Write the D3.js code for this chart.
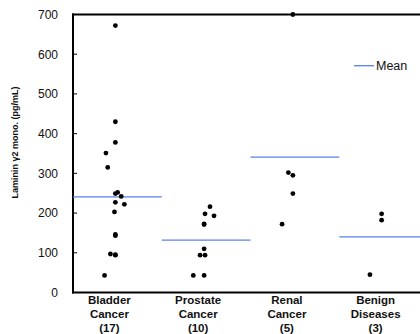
<!DOCTYPE html>
<html>
<head>
<meta charset="utf-8">
<script src="https://cdn.jsdelivr.net/npm/d3@7"></script>
<style>
  html, body { margin: 0; padding: 0; background: #fff; }
  svg { display: block; }
  text { font-family: "Liberation Sans", Arial, Helvetica, sans-serif; }
</style>
</head>
<body>
<script>
// ---- data ----
const categories = ["Bladder Cancer", "Prostate Cancer", "Renal Cancer", "Benign Diseases"];
const categoryLines = [["Bladder", "Cancer", "(17)"], ["Prostate", "Cancer", "(10)"], ["Renal", "Cancer", "(5)"], ["Benign", "Diseases", "(3)"]];
const bladderValues = [672, 430, 378, 351, 315, 252, 249, 242, 227, 222, 203, 146, 143, 97, 95, 94, 43];
const bladderJitter = [0, 0, 0, -2.1, -1.7, 0.5, 0, 1.3, 0, 2.0, -0.2, 0, 0, -1.1, 0, 0, -2.4];
const prostateValues = [216, 198, 193, 173, 171, 110, 94, 94, 43, 43];
const prostateJitter = [1.3, 0.2, 2.2, 0, 0, 0, -0.9, 0.2, -2.4, 0];
const renalValues = [700, 302, 295, 249, 172];
const renalJitter = [0, -1.0, 0, 0, -2.4];
const benignValues = [198, 182, 45];
const benignJitter = [0, 0, -2.6];
const meanValues = [241, 132, 341, 140];
const yTicks = [0, 100, 200, 300, 400, 500, 600, 700];
const yTitle = "Laminin \u03b32 mono. (pg/mL)";
const legendLabel = "Mean";

const seriesValues = [bladderValues, prostateValues, renalValues, benignValues];
const seriesJitter = [bladderJitter, prostateJitter, renalJitter, benignJitter];

// ---- layout ----
const W = 420, H = 334;
const mLeft = 73, mTop = 14.5, mBottom = 292.5, mRight = 428;

const svg = d3.select("body").append("svg").attr("width", W).attr("height", H);

const x = d3.scaleBand().domain(categories).range([mLeft, mRight]).padding(0);
const y = d3.scaleLinear().domain([0, 700]).range([mBottom, mTop]);
const jit = d3.scaleLinear().domain([0, 1]).range([0, 4.5]);

// y axis (inner ticks)
const yAxis = d3.axisLeft(y).tickValues(yTicks).tickSize(0).tickPadding(15);
const gy = svg.append("g").attr("transform", `translate(${mLeft},0)`).call(yAxis);
gy.select(".domain").remove();
gy.selectAll("text").attr("font-size", 12).attr("fill", "#111").attr("font-family", "Liberation Sans, Arial, sans-serif");
svg.append("g").selectAll("line").data(yTicks.filter(d => d > 0 && d < 700)).join("line")
  .attr("x1", mLeft).attr("x2", mLeft + 4)
  .attr("y1", d => y(d)).attr("y2", d => y(d))
  .attr("stroke", "#000").attr("stroke-width", 1);

// frame: left, bottom, top
svg.append("line").attr("x1", mLeft).attr("x2", mLeft).attr("y1", mTop - 1).attr("y2", mBottom + 1)
  .attr("stroke", "#000").attr("stroke-width", 2);
svg.append("line").attr("x1", mLeft - 1).attr("x2", W).attr("y1", mBottom).attr("y2", mBottom)
  .attr("stroke", "#000").attr("stroke-width", 2);
svg.append("line").attr("x1", mLeft - 1).attr("x2", W).attr("y1", mTop).attr("y2", mTop)
  .attr("stroke", "#000").attr("stroke-width", 2);

// mean lines
svg.append("g").selectAll("line").data(categories).join("line")
  .attr("x1", d => x(d)).attr("x2", d => x(d) + x.bandwidth())
  .attr("y1", (d, i) => y(meanValues[i])).attr("y2", (d, i) => y(meanValues[i]))
  .attr("stroke", "#5b80ec").attr("stroke-width", 1.3);

// points
const pts = [];
categories.forEach((c, i) => {
  seriesValues[i].forEach((v, j) => pts.push({ c, v, j: seriesJitter[i][j] }));
});
svg.append("g").selectAll("circle").data(pts).join("circle")
  .attr("cx", d => x(d.c) + x.bandwidth() / 2 - 2 + jit(d.j))
  .attr("cy", d => y(d.v))
  .attr("r", 2.4)
  .attr("fill", "#000");

// category labels
const lab = svg.append("g").selectAll("text").data(categories).join("text")
  .attr("text-anchor", "middle")
  .attr("font-size", 11.5).attr("font-weight", "bold").attr("fill", "#111");
lab.each(function (d, i) {
  const cx = x(d) + x.bandwidth() / 2 - 8;
  d3.select(this).selectAll("tspan").data(categoryLines[i]).join("tspan")
    .attr("x", cx).attr("y", (t, k) => 304 + k * 14).text(t => t);
});

// y title
svg.append("text")
  .attr("transform", `translate(18,142.5) rotate(-90)`)
  .attr("text-anchor", "middle")
  .attr("font-size", 9).attr("font-weight", "bold").attr("fill", "#111")
  .text(yTitle);

// legend
svg.append("line").attr("x1", 354).attr("x2", 374).attr("y1", 65.7).attr("y2", 65.7)
  .attr("stroke", "#5b80ec").attr("stroke-width", 1.3);
svg.append("text").attr("x", 376).attr("y", 65.7).attr("dy", "0.36em")
  .attr("font-size", 12.5).attr("fill", "#111").text(legendLabel);
</script>
</body>
</html>
